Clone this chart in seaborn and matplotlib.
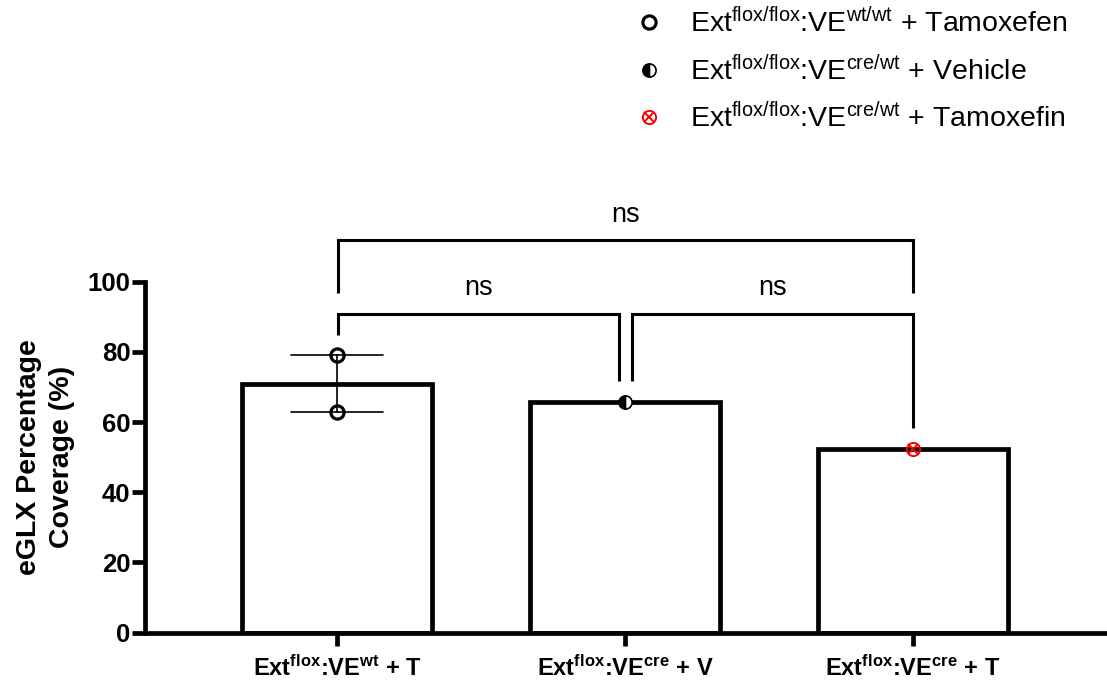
import matplotlib
matplotlib.use("Agg")
import matplotlib.pyplot as plt
import numpy as np
import pandas as pd
import seaborn as sns
from matplotlib.legend_handler import HandlerTuple

# ---------------- data ----------------
groups = ["wt_T", "cre_V", "cre_T"]
tick_labels = [
    "$Ext^{flox}$:$VE^{wt}$ + T",
    "$Ext^{flox}$:$VE^{cre}$ + V",
    "$Ext^{flox}$:$VE^{cre}$ + T",
]
legend_labels = [
    "$Ext^{flox/flox}$:$VE^{wt/wt}$ + Tamoxefen",
    "$Ext^{flox/flox}$:$VE^{cre/wt}$ + Vehicle",
    "$Ext^{flox/flox}$:$VE^{cre/wt}$ + Tamoxefin",
]
wt_tamoxifen = [79.0, 62.8]
cre_vehicle = [65.6]
cre_tamoxifen = [52.2]
group_values = [wt_tamoxifen, cre_vehicle, cre_tamoxifen]
comparison_labels = ["ns", "ns", "ns"]
y_ticks = [0, 20, 40, 60, 80, 100]

df = pd.DataFrame({
    "group": [g for g, vals in zip(groups, group_values) for _ in vals],
    "value": [v for vals in group_values for v in vals],
})

# ---------------- style ----------------
sns.set_style("ticks")
plt.rcParams["font.family"] = ["Liberation Sans", "DejaVu Sans"]
plt.rcParams["mathtext.default"] = "regular"
for k in ["text.color", "axes.labelcolor", "xtick.color", "ytick.color",
          "axes.edgecolor"]:
    plt.rcParams[k] = "black"

fig = plt.figure(figsize=(11.07, 6.86), dpi=100)
ax = fig.add_axes([0.131, 0.0777, 0.867, 0.5117])

LW = 3.4
sns.barplot(
    data=df, x="group", y="value", order=groups, errorbar="se",
    capsize=0.32, width=0.66, color="white", saturation=1,
    edgecolor="black", linewidth=LW,
    err_kws={"color": "black", "linewidth": 1.2}, ax=ax,
)

# individual points
circle_open = dict(marker="o", markersize=9.5, markerfacecolor="none",
                   markeredgecolor="black", markeredgewidth=2.3)
circle_half = dict(marker="o", markersize=9.5, fillstyle="left",
                   markerfacecolor="black", markerfacecoloralt="white",
                   markeredgecolor="black", markeredgewidth=1.2)
circle_red = dict(marker="o", markersize=9.5, markerfacecolor="none",
                  markeredgecolor="red", markeredgewidth=1.4)
x_red = dict(marker="x", markersize=6.5, color="red", markeredgewidth=1.4)

handles = []
for i, vals in enumerate(group_values):
    xs = [i] * len(vals)
    if i == 0:
        h = ax.plot(xs, vals, ls="none", zorder=5, clip_on=False, **circle_open)[0]
    elif i == 1:
        h = ax.plot(xs, vals, ls="none", zorder=5, clip_on=False, **circle_half)[0]
    else:
        h1 = ax.plot(xs, vals, ls="none", zorder=5, clip_on=False, **circle_red)[0]
        h2 = ax.plot(xs, vals, ls="none", zorder=6, clip_on=False, **x_red)[0]
        h = (h1, h2)
    handles.append(h)

# axes
ax.set_xlim(-0.667, 2.667)
ax.set_ylim(0, 100)
ax.set_yticks(y_ticks)
ax.set_xticks(range(len(groups)))
ax.set_xticklabels(tick_labels, fontsize=17, fontweight="bold")
for t in ax.get_yticklabels():
    t.set_fontsize(18.5)
    t.set_fontweight("bold")
ax.set_xlabel("")
ax.set_ylabel("eGLX Percentage\nCoverage (%)", fontsize=20.5, fontweight="bold",
              linespacing=1.35)
ax.yaxis.set_label_coords(-0.073, 0.5)
sns.despine(ax=ax)
for s in ["left", "bottom"]:
    ax.spines[s].set_linewidth(LW)
ax.spines["left"].set_bounds(0, 100)
ax.tick_params(axis="both", width=LW, length=9.5, color="black", pad=1)
ax.tick_params(axis="x", pad=6.5)
ax.set_facecolor("none")

# significance brackets
blw = 2.2
def bracket(x1, x2, y, y1, y2, label, ty):
    ax.plot([x1, x1, x2, x2], [y1, y, y, y2], color="black", lw=blw,
            clip_on=False, solid_capstyle="butt", solid_joinstyle="miter")
    ax.text((x1 + x2) / 2, ty, label, ha="center", va="center", fontsize=19.5)

bracket(0.003, 0.978, 90.8, 84.8, 71.7, comparison_labels[0], 98.3)
bracket(1.026, 2.0, 90.8, 71.7, 58.3, comparison_labels[1], 98.3)
bracket(0.003, 2.0, 111.9, 96.8, 96.8, comparison_labels[2], 119.0)

# legend
fig.legend(handles, legend_labels, loc="upper left",
           bbox_to_anchor=(0.571, 0.993), frameon=False, fontsize=20.5,
           handlelength=1.0, handletextpad=0.95, labelspacing=0.6,
           borderaxespad=0.0, borderpad=0.1,
           handler_map={tuple: HandlerTuple(ndivide=1)})

fig.savefig("out.png", dpi=100)
